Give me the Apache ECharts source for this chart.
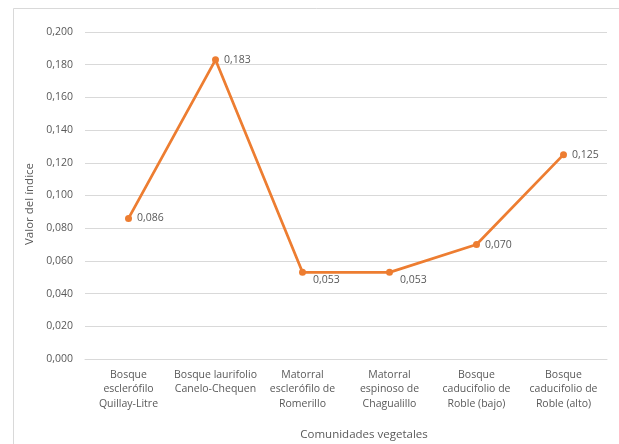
<!DOCTYPE html>
<html>
<head>
<meta charset="utf-8">
<script src="https://cdn.jsdelivr.net/npm/echarts@6/dist/echarts.min.js"></script>
<style>
  html, body { margin: 0; padding: 0; background: #fff; }
  #chart { width: 619px; height: 444px; }
</style>
</head>
<body>
<div id="chart"></div>
<script>
// Plant communities and their index value
const categories = [
  'Bosque\nesclerófilo\nQuillay-Litre',
  'Bosque laurifolio\nCanelo-Chequen',
  'Matorral\nesclerófilo de\nRomerillo',
  'Matorral\nespinoso de\nChagualillo',
  'Bosque\ncaducifolio de\nRoble (bajo)',
  'Bosque\ncaducifolio de\nRoble (alto)'
];
const indexValues = [0.086, 0.183, 0.053, 0.053, 0.070, 0.125];
const yTicks = { min: 0, max: 0.2, interval: 0.02 };

const fmt = v => v.toFixed(3).replace('.', ',');
const textColor = '#595959';
const font = 'Open Sans';

// labels under the two low points sit slightly below-right, as leader-style
const seriesData = indexValues.map((v, i) => {
  const item = { value: v };
  if (i === 2 || i === 3) {
    item.label = { offset: [2, 8] };
  }
  return item;
});

const chart = echarts.init(document.getElementById('chart'), null, { renderer: 'canvas' });
chart.setOption({
  animation: false,
  backgroundColor: '#fff',
  textStyle: { fontFamily: font },
  grid: { left: 85, right: 12, top: 32, bottom: 85, containLabel: false, outerBoundsMode: 'none' },
  graphic: [{
    type: 'rect',
    shape: { x: 13.5, y: 8.5, width: 700, height: 500 },
    style: { fill: 'none', stroke: '#d9d9d9', lineWidth: 1 },
    silent: true,
    z: -1
  }],
  xAxis: {
    type: 'category',
    data: categories,
    boundaryGap: true,
    axisLine: { show: true, lineStyle: { color: '#d9d9d9', width: 1 } },
    axisTick: { show: false },
    axisLabel: {
      color: textColor, fontSize: 10.5, fontFamily: font,
      lineHeight: 14.3, margin: 9, interval: 0
    },
    name: 'Comunidades vegetales',
    nameLocation: 'middle',
    nameGap: 70,
    nameTextStyle: { color: textColor, fontSize: 11.5, fontFamily: font, padding: [0, 0, 0, 36] }
  },
  yAxis: {
    type: 'value',
    min: yTicks.min, max: yTicks.max, interval: yTicks.interval,
    axisLine: { show: false },
    axisTick: { show: false },
    splitLine: { lineStyle: { color: '#d9d9d9', width: 1 } },
    axisLabel: { color: textColor, fontSize: 10.5, fontFamily: font, margin: 12, formatter: fmt },
    name: 'Valor del índice',
    nameLocation: 'middle',
    nameGap: 44,
    nameRotate: 90,
    nameTextStyle: { color: textColor, fontSize: 11.5, fontFamily: font, padding: [0, 17, 0, 0], verticalAlign: 'middle' }
  },
  series: [{
    type: 'line',
    data: seriesData,
    symbol: 'circle',
    symbolSize: 7,
    lineStyle: { color: '#ED7D31', width: 2.75 },
    itemStyle: { color: '#ED7D31' },
    label: {
      show: true, position: 'right', distance: 5,
      color: textColor, fontSize: 10.5, fontFamily: font,
      formatter: p => fmt(p.value)
    }
  }]
});
</script>
</body>
</html>
